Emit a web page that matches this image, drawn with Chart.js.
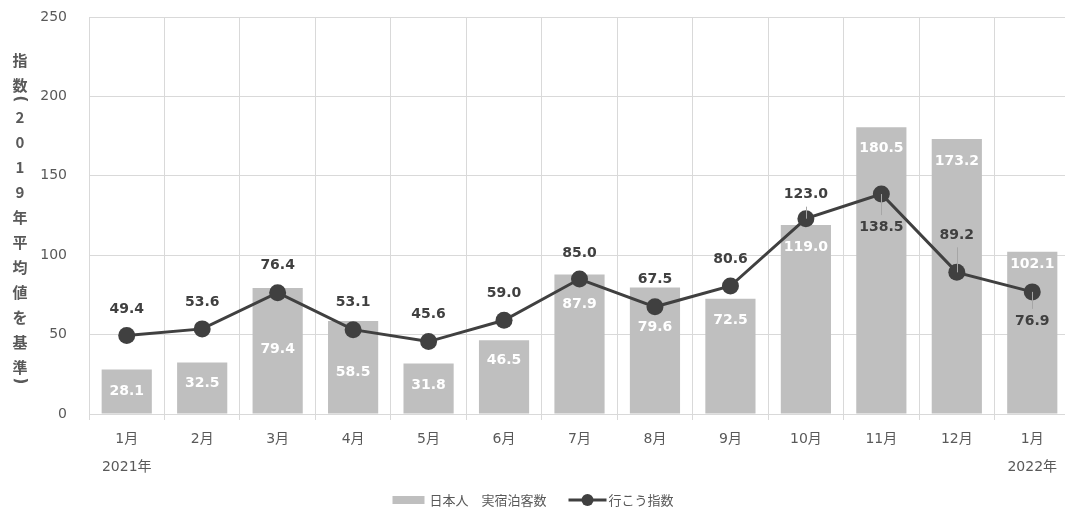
<!DOCTYPE html>
<html>
<head>
<meta charset="utf-8">
<script src="https://cdn.jsdelivr.net/npm/chart.js@4.4.1/dist/chart.umd.min.js"></script>
<style>
  html, body { margin: 0; padding: 0; background: #ffffff; overflow: hidden; }
  /* the plot runs a few pixels past the right edge of the window */
  #wrap { width: 1070px; height: 511px; position: relative; }
</style>
</head>
<body>
<div id="wrap"><canvas id="chart"></canvas></div>
<script>
// Months on the category axis (first and last carry the year)
const months = [['1月', '2021年'], '2月', '3月', '4月', '5月', '6月', '7月', '8月', '9月', '10月', '11月', '12月', ['1月', '2022年']];
// 日本人 実宿泊客数 (index, 2019 average = 100)
const guestNights = [28.1, 32.5, 79.4, 58.5, 31.8, 46.5, 87.9, 79.6, 72.5, 119.0, 180.5, 173.2, 102.1];
// 行こう指数
const ikouIndex = [49.4, 53.6, 76.4, 53.1, 45.6, 59.0, 85.0, 67.5, 80.6, 123.0, 138.5, 89.2, 76.9];
// Value axis ticks
const yTicks = [0, 50, 100, 150, 200, 250];

const barName = '日本人　実宿泊客数';
const lineName = '行こう指数';
const yTitle = '指数（2019年平均値を基準）';

// Label placement relative to each mark, in pixels
const barLabelDrop = [22, 21, 61, 51, 22, 20, 30, 40, 21, 22, 21, 22, 12];
const lineLabelShift = [-26, -27, -27, -27, -27, -27, -26, -27, -27, -24, 33, -37, 29];
const lineLeader = [false, false, false, false, false, false, false, false, false, true, true, true, true];

const BAR_COLOR = '#bfbfbf';
const LINE_COLOR = '#404040';
const GRID_COLOR = '#d9d9d9';
const TEXT_COLOR = '#595959';
const FONT = '"DejaVu Sans", "Noto Sans CJK JP", sans-serif';
const CJK_FONT = '"Noto Sans CJK JP", "DejaVu Sans", sans-serif';

// Value labels for bars and line points, with leader lines where labels sit far from points
const valueLabels = {
  id: 'valueLabels',
  afterDatasetsDraw(chart) {
    const ctx = chart.ctx;
    ctx.save();
    ctx.font = 'bold 14px ' + FONT;
    ctx.textAlign = 'center';
    ctx.textBaseline = 'middle';

    const bars = chart.getDatasetMeta(0).data;
    ctx.fillStyle = '#ffffff';
    bars.forEach((el, i) => {
      ctx.fillText(guestNights[i].toFixed(1), el.x, el.y + barLabelDrop[i]);
    });

    const pts = chart.getDatasetMeta(1).data;
    pts.forEach((el, i) => {
      const ly = el.y + lineLabelShift[i];
      if (lineLeader[i]) {
        const edge = ly - Math.sign(lineLabelShift[i]) * 12;
        ctx.strokeStyle = '#a6a6a6';
        ctx.lineWidth = 1;
        ctx.beginPath();
        ctx.moveTo(Math.round(el.x) + 0.5, el.y);
        ctx.lineTo(Math.round(el.x) + 0.5, edge);
        ctx.stroke();
      }
      ctx.fillStyle = LINE_COLOR;
      ctx.fillText(ikouIndex[i].toFixed(1), el.x, ly);
    });
    ctx.restore();
  }
};

// Vertical (stacked) y-axis title and the bottom legend
const chrome = {
  id: 'chrome',
  afterDraw(chart) {
    const ctx = chart.ctx;
    ctx.save();
    ctx.fillStyle = TEXT_COLOR;
    ctx.textAlign = 'center';
    ctx.textBaseline = 'middle';
    const chars = Array.from(yTitle);
    const isBracket = ch => ch === '（' || ch === '）';
    let y = 60;
    chars.forEach((ch, i) => {
      if (i > 0) {
        const prev = chars[i - 1];
        if (isBracket(ch)) y += 14;
        else if (isBracket(prev)) y += 18;
        else y += 25;
      }
      if (isBracket(ch)) {
        // brackets turn a quarter so they read in vertical writing
        ctx.save();
        ctx.translate(20, y);
        ctx.rotate(Math.PI / 2);
        ctx.font = 'bold 15px ' + FONT;
        ctx.fillText(ch === '（' ? '(' : ')', 0, 0);
        ctx.restore();
      } else {
        ctx.font = 'bold 15px ' + CJK_FONT;
        ctx.fillText(ch, 20, y);
      }
    });

    // legend
    ctx.font = '13px ' + CJK_FONT;
    ctx.textAlign = 'left';
    const ly = 500;
    const w1 = ctx.measureText(barName).width;
    const w2 = ctx.measureText(lineName).width;
    const total = 32 + 5 + w1 + 22 + 38 + 2 + w2;
    let x = 533 - total / 2;
    ctx.fillStyle = BAR_COLOR;
    ctx.fillRect(x, ly - 4, 32, 8);
    x += 37;
    ctx.fillStyle = TEXT_COLOR;
    ctx.fillText(barName, x, ly);
    x += w1 + 22;
    ctx.strokeStyle = LINE_COLOR;
    ctx.lineWidth = 3;
    ctx.beginPath();
    ctx.moveTo(x, ly);
    ctx.lineTo(x + 38, ly);
    ctx.stroke();
    ctx.fillStyle = LINE_COLOR;
    ctx.beginPath();
    ctx.arc(x + 19, ly, 6, 0, Math.PI * 2);
    ctx.fill();
    x += 40;
    ctx.fillStyle = TEXT_COLOR;
    ctx.fillText(lineName, x, ly);
    ctx.restore();
  }
};

new Chart(document.getElementById('chart'), {
  data: {
    labels: months,
    datasets: [
      {
        type: 'bar',
        label: barName,
        data: guestNights,
        backgroundColor: BAR_COLOR,
        categoryPercentage: 1,
        barPercentage: 0.665,
        order: 2
      },
      {
        type: 'line',
        label: lineName,
        data: ikouIndex,
        borderColor: LINE_COLOR,
        backgroundColor: LINE_COLOR,
        borderWidth: 3,
        pointRadius: 8.5,
        pointHoverRadius: 8.5,
        pointBorderWidth: 0,
        pointBackgroundColor: LINE_COLOR,
        tension: 0,
        clip: false,
        order: 1
      }
    ]
  },
  options: {
    responsive: true,
    maintainAspectRatio: false,
    devicePixelRatio: 1,
    animation: false,
    layout: { autoPadding: false, padding: { top: 17, right: 0, bottom: 0, left: 0 } },
    plugins: {
      legend: { display: false },
      tooltip: { enabled: false },
      title: { display: false }
    },
    scales: {
      x: {
        offset: true,
        grid: { offset: true, color: GRID_COLOR, lineWidth: 1, tickLength: 6, drawTicks: true },
        border: { display: true, color: GRID_COLOR },
        ticks: {
          color: TEXT_COLOR,
          padding: 5,
          maxRotation: 0,
          autoSkip: false,
          font: { family: FONT, size: 14, lineHeight: 2 }
        },
        afterFit(scale) {
          scale.height = 97;
          scale.paddingLeft = 0;
          scale.paddingRight = 0;
        }
      },
      y: {
        min: 0,
        max: 250,
        grid: { color: GRID_COLOR, lineWidth: 1, drawTicks: false },
        border: { display: true, color: GRID_COLOR },
        ticks: {
          color: TEXT_COLOR,
          padding: 22,
          font: { family: FONT, size: 14 }
        },
        afterBuildTicks(scale) { scale.ticks = yTicks.map(v => ({ value: v })); },
        afterFit(scale) {
          scale.width = 89;
          scale.paddingTop = 0;
          scale.paddingBottom = 0;
        }
      }
    }
  },
  plugins: [valueLabels, chrome]
});
</script>
</body>
</html>
